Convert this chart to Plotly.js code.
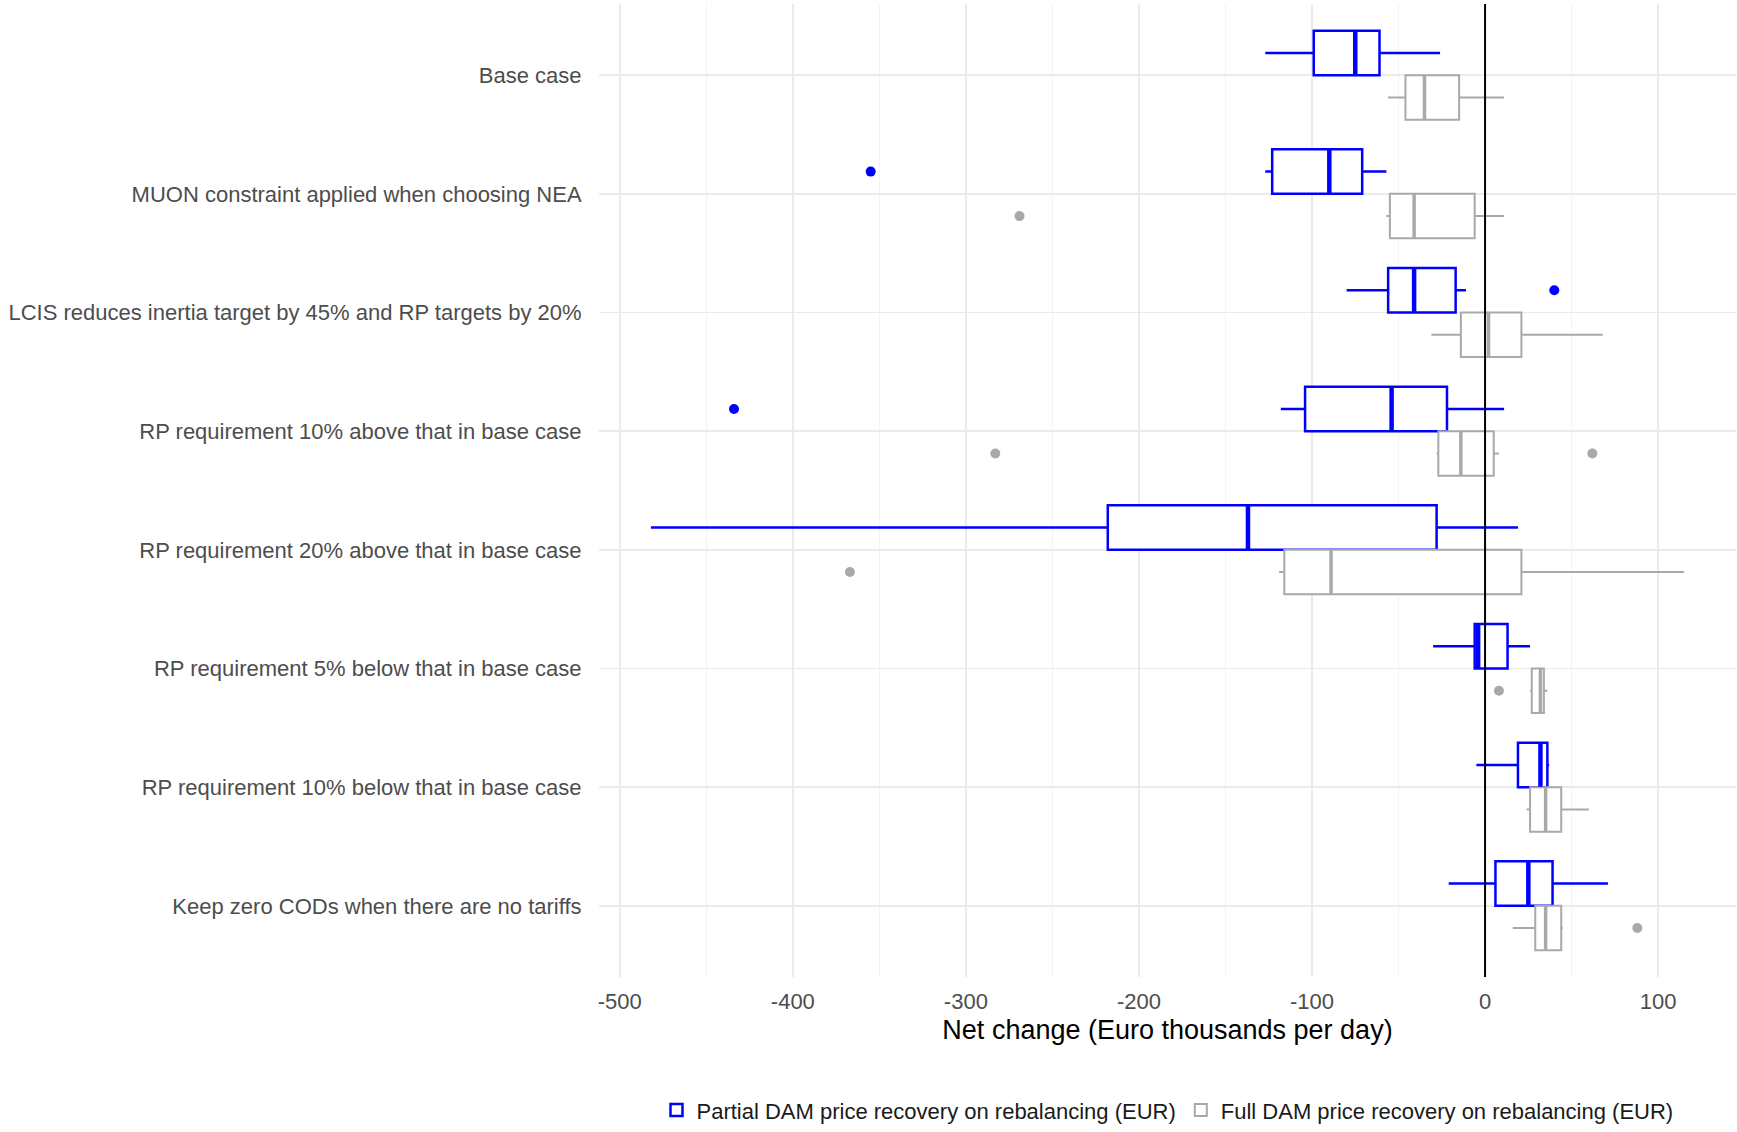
<!DOCTYPE html>
<html>
<head>
<meta charset="utf-8">
<script src="https://cdn.plot.ly/plotly-3.0.1.min.js"></script>
<style>html,body{margin:0;padding:0;background:#fff;}#chart{width:1737px;height:1132px;}</style>
</head>
<body>
<div id="chart"></div>
<script>
// ---- Data (Euro thousands per day) ----
const categories = [
  "Base case",
  "MUON constraint applied when choosing NEA",
  "LCIS reduces inertia target by 45% and RP targets by 20%",
  "RP requirement 10% above that in base case",
  "RP requirement 20% above that in base case",
  "RP requirement 5% below that in base case",
  "RP requirement 10% below that in base case",
  "Keep zero CODs when there are no tariffs"
];
const seriesNames = ["Partial DAM price recovery on rebalancing (EUR)", "Full DAM price recovery on rebalancing (EUR)"];
const xTickVals = [-500, -400, -300, -200, -100, 0, 100];
const xTickText = ["-500", "-400", "-300", "-200", "-100", "0", "100"];

// Partial DAM price recovery
const partialLower  = [-127, -127, -80, -118, -482, -30, -5, -21];
const partialQ1     = [-99, -123, -56, -104, -218, -6, 19, 6];
const partialMedian = [-75, -90, -41, -54, -137, -4, 32, 25];
const partialQ3     = [-61, -71, -17, -22, -28, 13, 36, 39];
const partialUpper  = [-26, -57, -11, 11, 19, 26, 37, 71];
const partialOutCat = ["MUON constraint applied when choosing NEA", "LCIS reduces inertia target by 45% and RP targets by 20%", "RP requirement 10% above that in base case"];
const partialOutVal = [-355, 40, -434];

// Full DAM price recovery
const fullLower  = [-56, -57, -31, -28, -119, 26, 24, 16];
const fullQ1     = [-46, -55, -14, -27, -116, 27, 26, 29];
const fullMedian = [-35, -41, 2, -14, -89, 32, 35, 35];
const fullQ3     = [-15, -6, 21, 5, 21, 34, 44, 44];
const fullUpper  = [11, 11, 68, 8, 115, 36, 60, 45];
const fullOutCat = ["MUON constraint applied when choosing NEA", "RP requirement 10% above that in base case", "RP requirement 10% above that in base case", "RP requirement 20% above that in base case", "RP requirement 5% below that in base case", "Keep zero CODs when there are no tariffs"];
const fullOutVal = [-269, -283, 62, -367, 8, 88];

// ---- Styling / layout helpers ----
const BLUE = "#0000FF";
const GREY = "#A9A9A9";
const FONT = "Liberation Sans, Arial, sans-serif";
const BOXGAP = 0.25;            // group occupies 0.75 of a category
const HALF = (1 - BOXGAP) / 4;  // dodge offset of each box centre
const pos = categories.map((c, i) => i);
const idx = c => categories.indexOf(c);

const W = 1737, H = 1132;
const margin = {l: 599, r: 1, t: 4, b: 153};
const yRange = [7.6, -0.6];
const pxPerCat = (H - margin.t - margin.b) / Math.abs(yRange[0] - yRange[1]);
const boxPx = pxPerCat * (1 - BOXGAP) / 2;

function boxTrace(name, color, lw, lo, q1, med, q3, hi) {
  return {
    type: "box", orientation: "h", name: name,
    y: pos, lowerfence: lo, q1: q1, median: med, q3: q3, upperfence: hi,
    boxpoints: false, whiskerwidth: 0,
    line: {color: color, width: lw}, fillcolor: "#ffffff",
    hoverinfo: "skip", showlegend: true
  };
}
function medianTrace(color, lw, med, sign) {
  return {
    type: "scatter", mode: "markers", showlegend: false, hoverinfo: "skip",
    x: med, y: pos.map(p => p + sign * HALF),
    marker: {symbol: "line-ns", size: (boxPx - 1) / 1.4, color: color, line: {color: color, width: lw}}
  };
}
function outlierTrace(color, cats, vals, sign) {
  return {
    type: "scatter", mode: "markers", showlegend: false, hoverinfo: "skip",
    x: vals, y: cats.map(c => idx(c) + sign * HALF),
    marker: {color: color, size: 10, line: {width: 0}}
  };
}

const data = [
  boxTrace(seriesNames[0], BLUE, 2.5, partialLower, partialQ1, partialMedian, partialQ3, partialUpper),
  boxTrace(seriesNames[1], GREY, 2, fullLower, fullQ1, fullMedian, fullQ3, fullUpper),
  medianTrace(BLUE, 4.5, partialMedian, -1),
  medianTrace(GREY, 3.5, fullMedian, 1),
  outlierTrace(BLUE, partialOutCat, partialOutVal, -1),
  outlierTrace(GREY, fullOutCat, fullOutVal, 1)
];

const layout = {
  width: W, height: H,
  margin: margin,
  paper_bgcolor: "#ffffff", plot_bgcolor: "#ffffff",
  font: {family: FONT, color: "#4D4D4D", size: 22},
  boxmode: "group", boxgap: BOXGAP, boxgroupgap: 0,
  showlegend: true,
  legend: {
    orientation: "h", x: 0.5, xanchor: "center", y: -0.137, yanchor: "middle",
    font: {family: FONT, size: 22, color: "#1a1a1a"}, itemwidth: 30, traceorder: "normal"
  },
  xaxis: {
    type: "linear", range: [-512, 145],
    tickmode: "array", tickvals: xTickVals, ticktext: xTickText,
    showgrid: true, gridcolor: "#EBEBEB", gridwidth: 1.5,
    minor: {tickmode: "linear", tick0: 0, dtick: 50, showgrid: true, gridcolor: "#F3F3F3", gridwidth: 1},
    zeroline: false, showline: false,
    ticks: "outside", ticklen: 5, tickcolor: "rgba(0,0,0,0)",
    tickfont: {family: FONT, size: 22, color: "#4D4D4D"},
    title: {text: "Net change (Euro thousands per day)", font: {family: FONT, size: 27, color: "#000000"}, standoff: 6},
    automargin: false
  },
  yaxis: {
    type: "linear", range: yRange,
    tickmode: "array", tickvals: pos, ticktext: categories,
    showgrid: true, gridcolor: "#EBEBEB", gridwidth: 1.5,
    zeroline: false, showline: false,
    ticks: "outside", ticklen: 12, tickcolor: "rgba(0,0,0,0)",
    tickfont: {family: FONT, size: 22, color: "#4D4D4D"},
    automargin: false
  },
  shapes: [{
    type: "line", xref: "x", yref: "paper", x0: 0, x1: 0, y0: 0, y1: 1,
    line: {color: "#000000", width: 2}, layer: "above"
  }]
};

Plotly.newPlot("chart", data, layout, {staticPlot: true, displayModeBar: false});
</script>
</body>
</html>
